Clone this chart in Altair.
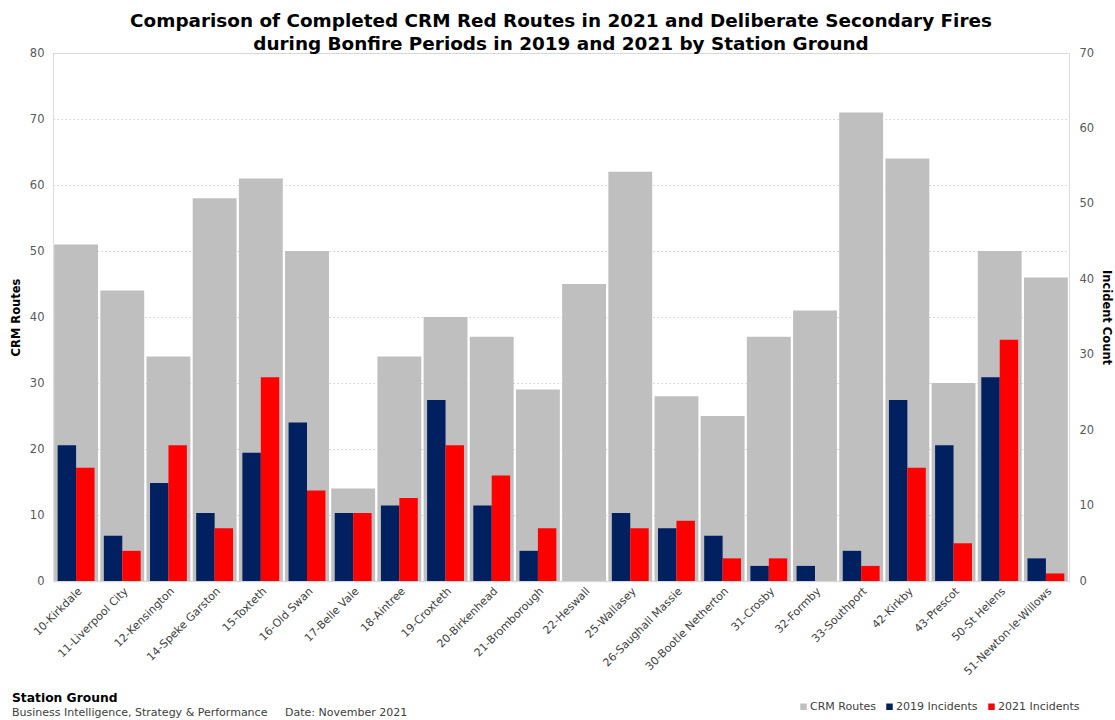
import altair as alt
import pandas as pd

# Station grounds in display order
stations = [
    "10-Kirkdale", "11-Liverpool City", "12-Kensington", "14-Speke Garston",
    "15-Toxteth", "16-Old Swan", "17-Belle Vale", "18-Aintree", "19-Croxteth",
    "20-Birkenhead", "21-Bromborough", "22-Heswall", "25-Wallasey",
    "26-Saughall Massie", "30-Bootle Netherton", "31-Crosby", "32-Formby",
    "33-Southport", "42-Kirkby", "43-Prescot", "50-St Helens",
    "51-Newton-le-Willows",
]

# Completed CRM red routes in 2021 (left axis)
crm_routes = [51, 44, 34, 58, 61, 50, 14, 34, 40, 37, 29, 45, 62, 28, 25, 37, 41, 71, 64, 30, 50, 46]

# Deliberate secondary fires during bonfire periods (right axis)
incidents_2019 = [18, 6, 13, 9, 17, 21, 9, 10, 24, 10, 4, 0, 9, 7, 6, 2, 2, 4, 24, 18, 27, 3]
incidents_2021 = [15, 4, 18, 7, 27, 12, 9, 11, 18, 14, 7, 0, 7, 8, 3, 3, 0, 2, 15, 5, 32, 1]

series_names = ["CRM Routes", "2019 Incidents", "2021 Incidents"]
series_colors = ["#bfbfbf", "#002060", "#ff0000"]

footer_title = ["Station Ground"]
footer_org = ["Business Intelligence, Strategy & Performance"]
footer_date = ["Date: November 2021"]

routes_df = pd.DataFrame({"station": stations, "value": crm_routes, "series": "CRM Routes"})
inc_df = pd.concat([
    pd.DataFrame({"station": stations, "count": incidents_2019, "series": "2019 Incidents"}),
    pd.DataFrame({"station": stations, "count": incidents_2021, "series": "2021 Incidents"}),
], ignore_index=True)

FONT = "DejaVu Sans"
W, H = 1016, 528

color = alt.Color(
    "series:N",
    scale=alt.Scale(domain=series_names, range=series_colors),
    legend=alt.Legend(
        title=None, orient="none", direction="horizontal",
        legendX=745, legendY=648,
        symbolType="square", symbolSize=42, symbolStrokeWidth=0,
        labelFont=FONT, labelFontSize=11, labelColor="#404040",
        columnPadding=8, labelOffset=1,
    ),
)

x_enc = alt.X(
    "station:N", sort=stations, title=None,
    scale=alt.Scale(paddingInner=0.05, paddingOuter=0.025),
    axis=alt.Axis(
        labelAngle=-45, labelFont=FONT, labelFontSize=11, labelColor="#404040",
        labelPadding=4, ticks=False, domain=True, domainColor="#d9d9d9",
        domainWidth=1.5, grid=False,
    ),
)

routes = alt.Chart(routes_df).mark_bar().encode(
    x=x_enc,
    y=alt.Y(
        "value:Q", title="CRM Routes",
        scale=alt.Scale(domain=[0, 80], nice=False),
        axis=alt.Axis(
            orient="left", values=list(range(0, 81, 10)), labelFont=FONT,
            labelFontSize=11.5, labelColor="#595959", labelPadding=9,
            ticks=False, domain=False, grid=True, gridColor="#d0d0d0",
            gridDash=[1.5, 2.5], gridWidth=1, titleFont=FONT, titleFontSize=11.5,
            titleFontWeight="bold", titleColor="#000000", titlePadding=8,
        ),
    ),
    color=color,
)

incidents = alt.Chart(inc_df).mark_bar().encode(
    x=alt.X("station:N", sort=stations),
    xOffset=alt.XOffset("series:N", sort=series_names[1:],
                        scale=alt.Scale(paddingOuter=0.19, paddingInner=0)),
    y=alt.Y(
        "count:Q", title="Incident Count",
        scale=alt.Scale(domain=[0, 70], nice=False),
        axis=alt.Axis(
            orient="right", values=list(range(0, 71, 10)), labelFont=FONT,
            labelFontSize=11.5, labelColor="#595959", labelPadding=10,
            ticks=False, domain=False, grid=False, titleFont=FONT,
            titleFontSize=11.5, titleFontWeight="bold", titleColor="#000000",
            titlePadding=7,
        ),
    ),
    color=color,
)

footer_a = alt.Chart(pd.DataFrame({"t": footer_title})).mark_text(
    align="left", baseline="middle", font=FONT, fontSize=12.3, fontWeight="bold",
    color="#000000",
).encode(text="t:N", x=alt.value(-41), y=alt.value(645))

footer_b = alt.Chart(pd.DataFrame({"t": footer_org})).mark_text(
    align="left", baseline="middle", font=FONT, fontSize=11, color="#404040",
).encode(text="t:N", x=alt.value(-41), y=alt.value(660))

footer_c = alt.Chart(pd.DataFrame({"t": footer_date})).mark_text(
    align="left", baseline="middle", font=FONT, fontSize=11, color="#404040",
).encode(text="t:N", x=alt.value(232), y=alt.value(660))

chart = alt.layer(routes, incidents, footer_a, footer_b, footer_c).resolve_scale(
    y="independent"
).properties(
    width=W, height=H,
    title=alt.TitleParams(
        ["Comparison of Completed CRM Red Routes in 2021 and Deliberate Secondary Fires",
         "during Bonfire Periods in 2019 and 2021 by Station Ground"],
        font=FONT, fontSize=18.4, fontWeight="bold", color="#000000",
        anchor="middle", lineHeight=23, offset=-6,
    ),
    autosize=alt.AutoSizeParams(type="none"),
    padding={"left": 53, "top": 53, "right": 46, "bottom": 139},
).configure_view(stroke=None).configure(background="#ffffff")

chart.save("out.html", embed_options={"renderer": "svg", "actions": False})
